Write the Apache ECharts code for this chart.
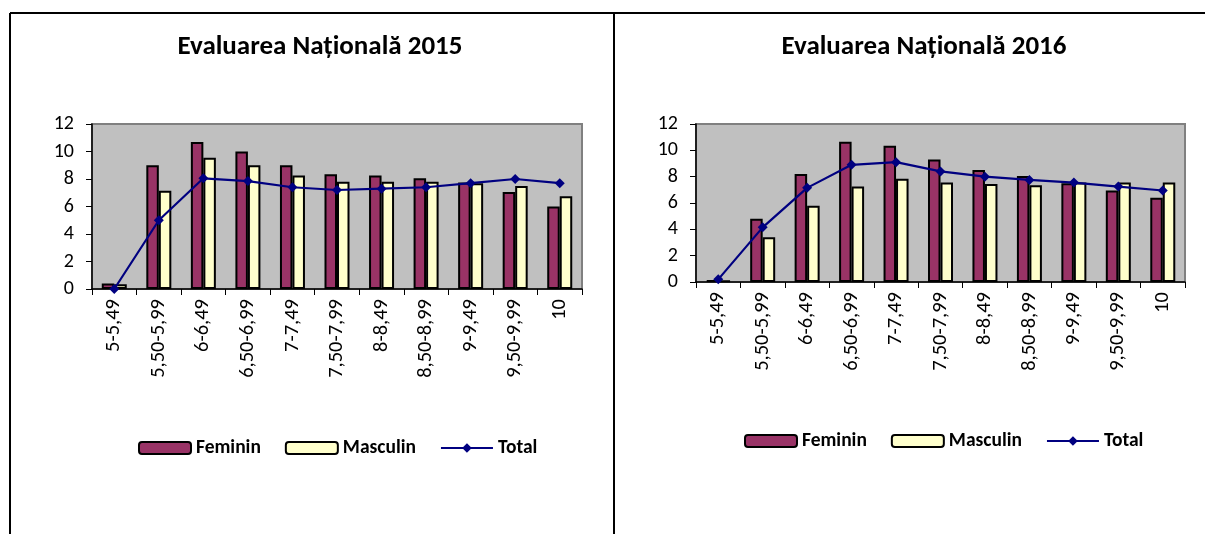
<!DOCTYPE html>
<html>
<head>
<meta charset="utf-8">
<script src="https://cdn.jsdelivr.net/npm/echarts@6/dist/echarts.min.js"></script>
<style>
  html, body { margin: 0; padding: 0; background: #fff; }
  #chart { width: 1205px; height: 534px; }
</style>
</head>
<body>
<div id="chart"></div>
<script>
const categories = ['5-5,49', '5,50-5,99', '6-6,49', '6,50-6,99', '7-7,49', '7,50-7,99',
  '8-8,49', '8,50-8,99', '9-9,49', '9,50-9,99', '10'];

const feminin2015 = [0.4, 9.0, 10.7, 10.0, 9.0, 8.35, 8.25, 8.05, 7.75, 7.05, 6.0];
const masculin2015 = [0.35, 7.15, 9.55, 9.0, 8.25, 7.8, 7.8, 7.8, 7.7, 7.5, 6.75];
const total2015 = [0, 5.0, 8.05, 7.85, 7.4, 7.2, 7.3, 7.4, 7.7, 8.0, 7.7];

const feminin2016 = [0.15, 4.8, 8.2, 10.65, 10.35, 9.3, 8.5, 8.05, 7.5, 6.95, 6.4];
const masculin2016 = [0.1, 3.4, 5.8, 7.25, 7.85, 7.55, 7.45, 7.35, 7.55, 7.55, 7.55];
const total2016 = [0.2, 4.15, 7.15, 8.9, 9.1, 8.4, 8.0, 7.75, 7.55, 7.25, 6.95];

const yTicks = [0, 2, 4, 6, 8, 10, 12];

const font = 'Carlito, Lato, sans-serif';

const chart = echarts.init(document.getElementById('chart'));

function makeX(gridIndex) {
  return {
    type: 'category',
    gridIndex,
    data: categories,
    boundaryGap: true,
    axisLine: { lineStyle: { color: '#000', width: 1.5 } },
    axisTick: { show: true, length: 6, lineStyle: { color: '#000' } },
    axisLabel: { rotate: 90, interval: 0, color: '#000', fontSize: 20.5, fontFamily: font, margin: 10 }
  };
}

function makeY(gridIndex) {
  return {
    type: 'value',
    gridIndex,
    min: yTicks[0],
    max: yTicks[yTicks.length - 1],
    interval: 2,
    splitLine: { show: false },
    axisLine: { show: true, lineStyle: { color: '#000', width: 1.5 } },
    axisTick: { show: true, length: 6, lineStyle: { color: '#000' } },
    axisLabel: { color: '#000', fontSize: 20, fontFamily: font, margin: 18 }
  };
}

function makeSeries(idx, fem, mas, tot) {
  return [
    {
      name: 'Feminin', type: 'bar', xAxisIndex: idx, yAxisIndex: idx, data: fem,
      barWidth: 12.5, barGap: '0%',
      itemStyle: { color: '#993366', borderColor: '#000', borderWidth: 2 }
    },
    {
      name: 'Masculin', type: 'bar', xAxisIndex: idx, yAxisIndex: idx, data: mas,
      barWidth: 12.5, barGap: '0%',
      itemStyle: { color: '#ffffcc', borderColor: '#000', borderWidth: 2 }
    },
    {
      name: 'Total', type: 'line', xAxisIndex: idx, yAxisIndex: idx, data: tot,
      symbol: 'diamond', symbolSize: 10,
      lineStyle: { color: '#000080', width: 2.2 },
      itemStyle: { color: '#000080' }
    }
  ];
}

function makeLegend(left, top) {
  return {
    left, top,
    data: ['Feminin', 'Masculin', 'Total'],
    itemWidth: 52, itemHeight: 12, itemGap: 24,
    textStyle: { fontSize: 19.5, fontWeight: 'bold', fontFamily: font, color: '#000' }
  };
}

const option = {
  animation: false,
  title: [
    { text: 'Evaluarea Națională 2015', left: 315, top: 29, textAlign: 'center',
      textStyle: { fontSize: 27, fontWeight: 'bold', fontFamily: font, color: '#000' } },
    { text: 'Evaluarea Națională 2016', left: 919, top: 29, textAlign: 'center',
      textStyle: { fontSize: 27, fontWeight: 'bold', fontFamily: font, color: '#000' } }
  ],
  legend: [makeLegend(133, 433), makeLegend(739, 426)],
  grid: [
    { left: 92, top: 124, width: 490, height: 165, show: true,
      backgroundColor: '#c0c0c0', borderColor: '#808080', borderWidth: 2 },
    { left: 696, top: 124, width: 489, height: 158, show: true,
      backgroundColor: '#c0c0c0', borderColor: '#808080', borderWidth: 2 }
  ],
  xAxis: [makeX(0), makeX(1)],
  yAxis: [makeY(0), makeY(1)],
  series: [
    ...makeSeries(0, feminin2015, masculin2015, total2015),
    ...makeSeries(1, feminin2016, masculin2016, total2016)
  ],
  graphic: [
    { type: 'line', shape: { x1: 10, y1: 13, x2: 1205, y2: 13 }, style: { stroke: '#000', lineWidth: 2 } },
    { type: 'line', shape: { x1: 10, y1: 13, x2: 10, y2: 534 }, style: { stroke: '#000', lineWidth: 2 } },
    { type: 'line', shape: { x1: 614, y1: 13, x2: 614, y2: 534 }, style: { stroke: '#000', lineWidth: 2 } }
  ]
};

chart.setOption(option);
</script>
</body>
</html>
